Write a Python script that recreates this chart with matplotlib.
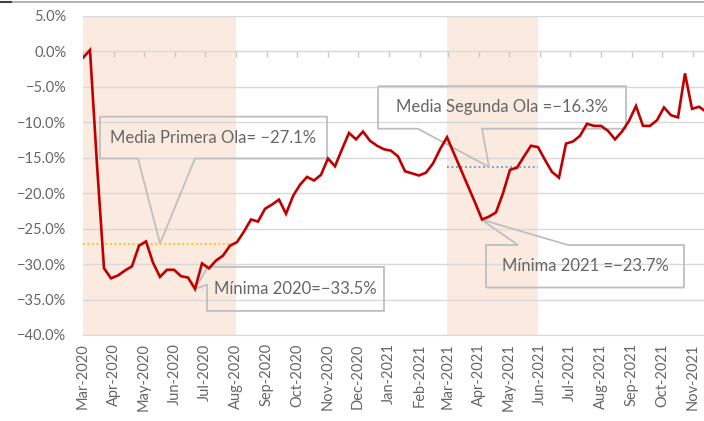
import numpy as np
import pandas as pd
import matplotlib
matplotlib.use("Agg")
import matplotlib.pyplot as plt
import matplotlib.dates as mdates
from matplotlib.path import Path
from matplotlib.patches import PathPatch
from matplotlib.lines import Line2D
from matplotlib.ticker import PercentFormatter, MultipleLocator

plt.rcParams['font.family'] = ['Lato', 'DejaVu Sans']
plt.rcParams['axes.unicode_minus'] = True

# weekly change vs. 2019 (%)
start = "2020-03-01"
values = [
    -0.9, 0.2, -16.0, -30.6, -32.0, -31.6, -30.9, -30.3, -27.4, -26.8,
    -29.8, -31.8, -30.8, -30.8, -31.7, -31.9, -33.5, -29.9, -30.6, -29.5,
    -28.8, -27.4, -26.9, -25.4, -23.7, -24.0, -22.2, -21.6, -20.9, -22.9,
    -20.4, -18.8, -17.7, -18.2, -17.4, -15.1, -16.2, -13.8, -11.5, -12.4,
    -11.3, -12.6, -13.3, -13.8, -14.0, -14.8, -16.9, -17.2, -17.5, -17.1,
    -15.8, -13.8, -12.1, -14.4, -16.7, -19.0, -21.3, -23.7, -23.3, -22.7,
    -20.0, -16.7, -16.4, -14.8, -13.3, -13.5, -15.3, -17.0, -17.8, -13.0,
    -12.7, -11.9, -10.2, -10.5, -10.5, -11.2, -12.4, -11.3, -9.8, -7.7,
    -10.5, -10.5, -9.7, -7.9, -9.0, -9.3, -3.1, -8.1, -7.8, -8.5,
]
dates = pd.date_range(start, periods=len(values), freq="7D")

wave1 = ("2020-03-01", "2020-08-01")
wave2 = ("2021-02-28", "2021-05-30")
mean_wave1 = -27.1
mean_wave2 = -16.3
min_2020 = -33.5
min_2021 = -23.7

red = "#C00000"
grey_txt = "#666666"
grid_c = "#D9D9D9"
box_c = "#BFBFBF"
shade = "#FBEADF"

fig = plt.figure(figsize=(7.04, 4.21), dpi=100)
ax = fig.add_axes([83 / 704, 1 - 335 / 421, 621 / 704, 319 / 421])

ax.axvspan(pd.Timestamp(wave1[0]), pd.Timestamp(wave1[1]), color=shade, lw=0, zorder=0)
ax.axvspan(pd.Timestamp(wave2[0]), pd.Timestamp(wave2[1]), color=shade, lw=0, zorder=0)

ax.plot([pd.Timestamp(wave1[0]), pd.Timestamp(wave1[1])], [mean_wave1, mean_wave1],
        ls=(0, (1, 1.5)), color="#FFC000", lw=1.3, zorder=2)
ax.plot([pd.Timestamp(wave2[0]), pd.Timestamp(wave2[1])], [mean_wave2, mean_wave2],
        ls=(0, (1, 1.5)), color="#5B9BD5", lw=1.3, zorder=2)

ax.plot(dates, values, color=red, lw=1.9, zorder=4, solid_joinstyle="miter")

ax.set_ylim(-40, 5)
ax.set_xlim(pd.Timestamp(start), pd.Timestamp(start) + pd.Timedelta(days=621))
ax.yaxis.set_major_locator(MultipleLocator(5))
ax.yaxis.set_major_formatter(PercentFormatter(decimals=1))
ax.xaxis.set_major_locator(mdates.MonthLocator())
ax.xaxis.set_major_formatter(mdates.DateFormatter("%b-%Y"))
ax.grid(axis="y", color=grid_c, lw=1.0, zorder=1)
ax.set_axisbelow(True)
for t in ax.yaxis.get_major_ticks():
    if abs(t.get_loc() - 5) < 1e-6:
        t.gridline.set_visible(False)
for s in ["top", "right", "left"]:
    ax.spines[s].set_visible(False)
ax.spines["bottom"].set_color(grid_c)
ax.tick_params(axis="y", length=0, pad=12, labelsize=10.5, labelcolor=grey_txt)
ax.tick_params(axis="x", length=0, pad=6, labelsize=10.5, labelcolor=grey_txt, rotation=90)

# month tick marks sitting on the 0% line
sec = ax.secondary_xaxis(40 / 45)
sec.xaxis.set_major_locator(mdates.MonthLocator())
sec.xaxis.set_ticks_position("bottom")
sec.tick_params(axis="x", direction="out", length=4, color="#C8C8C8", width=1,
                labelbottom=False, labeltop=False)
for s in sec.spines.values():
    s.set_color("#C8C8C8")


def callout(text, x0, x1, y0, y1, tip, base, side):
    X0, X1 = mdates.date2num(pd.Timestamp(x0)), mdates.date2num(pd.Timestamp(x1))
    tx = mdates.date2num(pd.Timestamp(tip[0]))
    if side == "bottom":
        b0, b1 = [mdates.date2num(pd.Timestamp(b)) for b in base]
        pts = [(X0, y0), (X1, y0), (X1, y1), (b1, y1), (tx, tip[1]), (b0, y1), (X0, y1), (X0, y0)]
    elif side == "top":
        b0, b1 = [mdates.date2num(pd.Timestamp(b)) for b in base]
        pts = [(X0, y1), (X0, y0), (b0, y0), (tx, tip[1]), (b1, y0), (X1, y0), (X1, y1), (X0, y1)]
    else:  # left
        pts = [(X0, y0), (X1, y0), (X1, y1), (X0, y1), (X0, base[1]), (tx, tip[1]), (X0, base[0]), (X0, y0)]
    ax.add_patch(PathPatch(Path(pts), fc="none", ec=box_c, lw=1.3, zorder=3, clip_on=False))
    ax.text((X0 + X1) / 2, (y0 + y1) / 2, text, ha="center", va="center",
            fontsize=12, color=grey_txt, zorder=5)


callout("Media Primera Ola= \u221227.1%", "2020-03-18", "2020-10-31", -9.2, -15.1,
        ("2020-05-17", mean_wave1), ("2020-04-25", "2020-06-21"), "bottom")
callout("M\u00ednima 2020=\u221233.5%", "2020-07-03", "2020-12-27", -30.4, -36.6,
        (dates[int(np.argmin(values[:40]))], min_2020), (-30.6, -32.9), "left")
callout("Media Segunda Ola =\u221216.3%", "2020-12-21", "2021-08-26", -4.9, -10.9,
        ("2021-04-11", mean_wave2), ("2021-01-30", "2021-04-04"), "bottom")
callout("M\u00ednima 2021 =\u221223.7%", "2021-04-08", "2021-10-23", -27.3, -33.3,
        ("2021-04-03", min_2021), ("2021-05-10", "2021-06-29"), "top")

fig.add_artist(Line2D([0, 1], [0.995, 0.995], color="#A6A6A6", lw=1.2))
fig.add_artist(Line2D([0, 0.015], [0.995, 0.995], color="#404040", lw=1.5))

fig.savefig("out.png", dpi=100)
